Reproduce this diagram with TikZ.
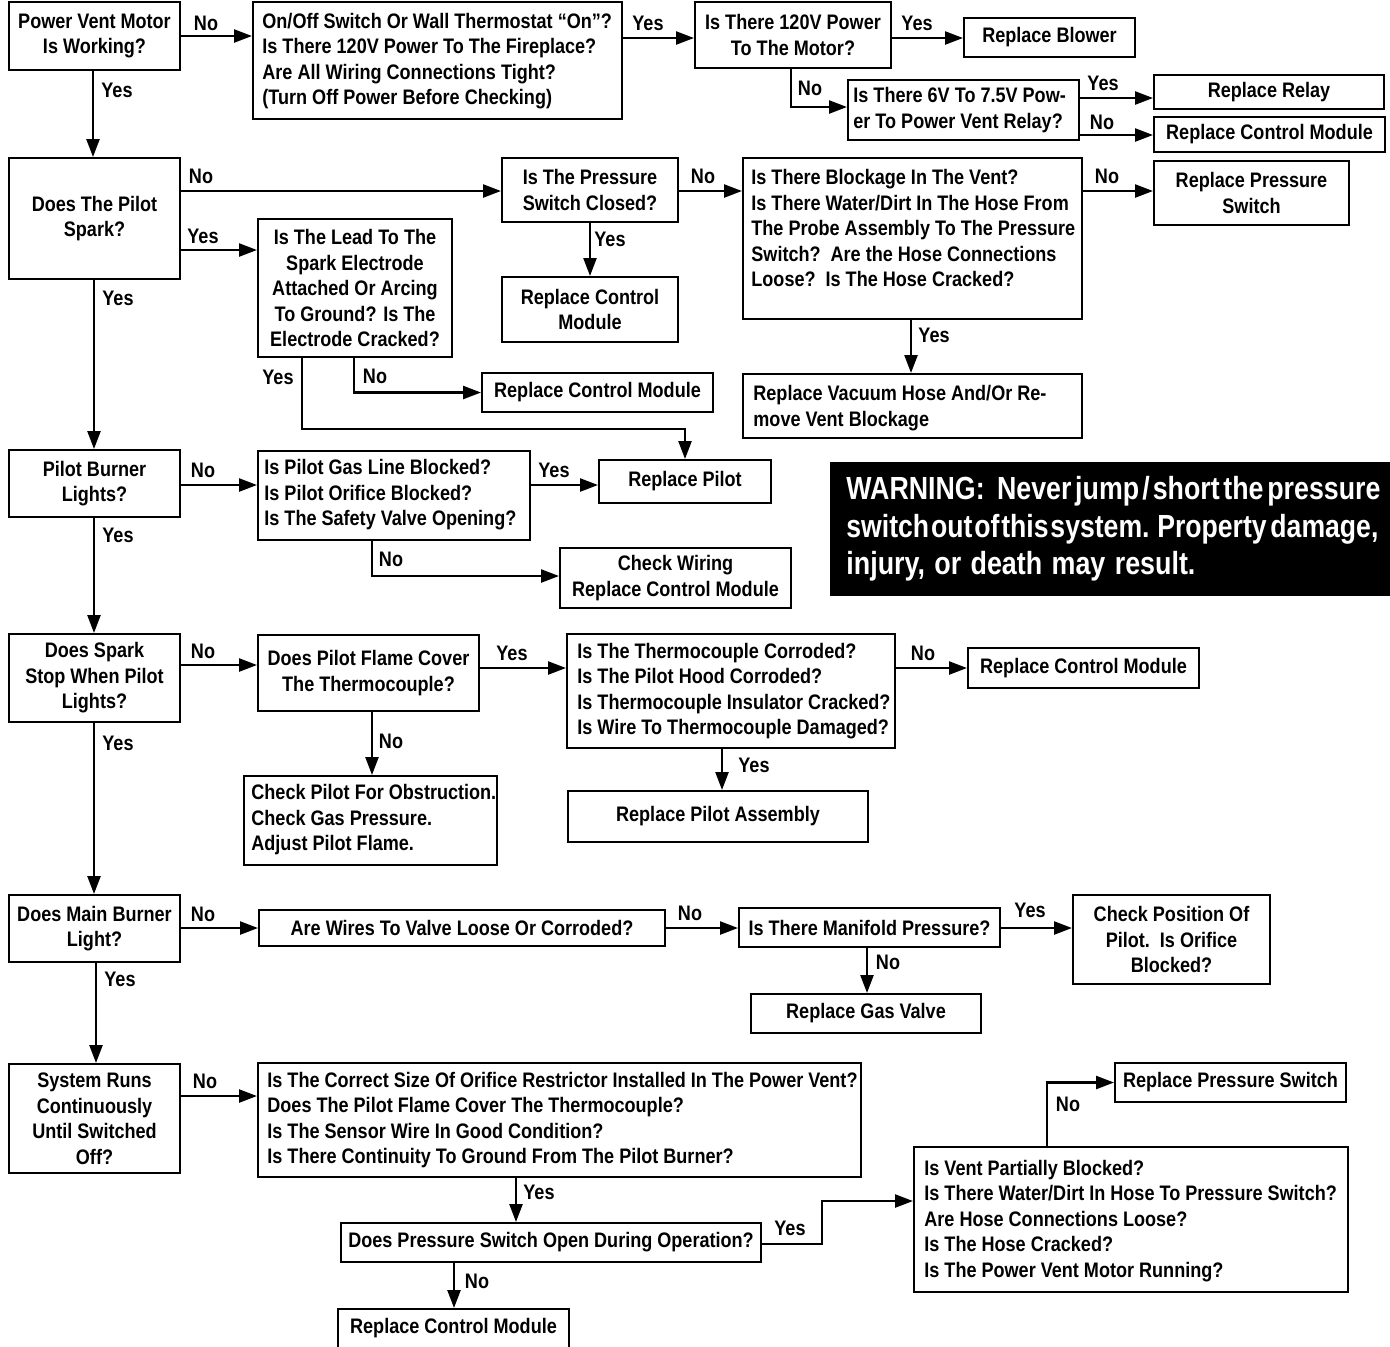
\documentclass[tikz,border=0pt]{standalone}
\usepackage{fontspec}
\setmainfont{Liberation Sans}[FakeStretch=0.86]
\usetikzlibrary{arrows.meta}
\newcommand\fs{\fontsize{10.5}{12.75}\selectfont\bfseries}
\newcommand\wfs{\fontsize{16}{18.75}\selectfont\bfseries}
\tikzset{
  box/.style={draw,line width=1pt,inner sep=0pt,align=center,font=\fs},
  txt/.style={inner sep=0pt,align=left,font=\fs},
  lab/.style={inner sep=0pt,font=\fs},
  arr/.style={line width=1.2pt,-{Triangle[length=9pt,width=6.5pt]}},
  wtxt/.style={inner sep=0pt,text=white,font=\wfs}
}
\newcommand\bx[6]{%
  \pgfmathsetmacro\bw{(#4-#2)*0.5}%
  \pgfmathsetmacro\bh{(#5-#3)*0.5}%
  \node[box,minimum width=\bw pt,minimum height=\bh pt] (#1) at ({(#2+#4)/2},{(#3+#5)/2}) {#6};}
\newcommand\lbx[8]{%
  \bx{#1}{#2}{#3}{#4}{#5}{}%
  \node[txt,anchor=west] (#1-t) at (#6,#7) {#8};}
\begin{document}
\begin{tikzpicture}[x=0.5pt,y=-0.5pt]
\useasboundingbox (0,0) rectangle (1390,1346);
% ---- boxes
\bx{pvm}{9}{2}{180}{70}{Power Vent Motor\\Is Working?}
\lbx{onoff}{253}{2}{622}{119}{262}{61}{On/Off Switch Or Wall Thermostat “On”?\\Is There 120V Power To The Fireplace?\\Are All Wiring Connections Tight?\\(Turn Off Power Before Checking)}
\bx{pwr}{695}{2}{891}{68}{Is There 120V Power\\To The Motor?}
\bx{blower}{964}{18}{1135}{57}{Replace Blower}
\lbx{relq}{848}{80}{1079}{140}{853}{110}{Is There 6V To 7.5V Pow-\\er To Power Vent Relay?}
\bx{relay}{1154}{75}{1384}{109}{Replace Relay}
\bx{rcmA}{1154}{117}{1385}{152}{Replace Control Module}
\bx{spark}{9}{158}{180}{279}{Does The Pilot\\Spark?}
\bx{lead}{258}{219}{452}{357}{Is The Lead To The\\Spark Electrode\\Attached Or Arcing\\To Ground? Is The\\Electrode Cracked?}
\bx{psc}{502}{158}{678}{222}{Is The Pressure\\Switch Closed?}
\bx{rcmB}{502}{277}{678}{342}{Replace Control\\Module}
\lbx{block}{743}{158}{1082}{319}{751}{228}{Is There Blockage In The Vent?\\Is There Water/Dirt In The Hose From\\The Probe Assembly To The Pressure\\Switch?\ \ Are the Hose Connections\\Loose?\ \ Is The Hose Cracked?}
\bx{rpsA}{1154}{161}{1349}{225}{Replace Pressure\\Switch}
\lbx{vac}{743}{374}{1082}{438}{753}{408}{Replace Vacuum Hose And/Or Re-\\move Vent Blockage}
\bx{rcmC}{482}{373}{713}{412}{Replace Control Module}
\bx{pburn}{9}{450}{180}{517}{Pilot Burner\\Lights?}
\lbx{gas}{258}{451}{530}{540}{264}{495}{Is Pilot Gas Line Blocked?\\Is Pilot Orifice Blocked?\\Is The Safety Valve Opening?}
\bx{rpil}{599}{460}{771}{503}{Replace Pilot}
\bx{cwire}{560}{548}{791}{608}{Check Wiring\\Replace Control Module}
\bx{dss}{9}{634}{180}{722}{Does Spark\\Stop When Pilot\\Lights?}
\bx{flame}{258}{635}{479}{711}{Does Pilot Flame Cover\\The Thermocouple?}
\lbx{thermo}{567}{634}{895}{748}{577}{691}{Is The Thermocouple Corroded?\\Is The Pilot Hood Corroded?\\Is Thermocouple Insulator Cracked?\\Is Wire To Thermocouple Damaged?}
\bx{rcmD}{968}{648}{1199}{688}{Replace Control Module}
\lbx{obst}{244}{776}{497}{865}{251}{820}{Check Pilot For Obstruction.\\Check Gas Pressure.\\Adjust Pilot Flame.}
\bx{rpa}{568}{791}{868}{842}{Replace Pilot Assembly}
\bx{mainb}{9}{895}{180}{962}{Does Main Burner\\Light?}
\bx{wires}{259}{910}{665}{946}{Are Wires To Valve Loose Or Corroded?}
\bx{mani}{739}{908}{1000}{947}{Is There Manifold Pressure?}
\bx{cpos}{1073}{895}{1270}{984}{Check Position Of\\Pilot.\ \ Is Orifice\\Blocked?}
\bx{rgv}{751}{994}{981}{1033}{Replace Gas Valve}
\bx{sysr}{9}{1064}{180}{1173}{System Runs\\Continuously\\Until Switched\\Off?}
\lbx{csize}{258}{1063}{861}{1177}{267}{1120}{Is The Correct Size Of Orifice Restrictor Installed In The Power Vent?\\Does The Pilot Flame Cover The Thermocouple?\\Is The Sensor Wire In Good Condition?\\Is There Continuity To Ground From The Pilot Burner?}
\bx{pso}{341}{1223}{761}{1262}{Does Pressure Switch Open During Operation?}
\bx{rcmE}{338}{1309}{569}{1348}{Replace Control Module}
\lbx{vpart}{914}{1147}{1348}{1292}{924}{1221}{Is Vent Partially Blocked?\\Is There Water/Dirt In Hose To Pressure Switch?\\Are Hose Connections Loose?\\Is The Hose Cracked?\\Is The Power Vent Motor Running?}
\bx{rpsB}{1115}{1063}{1346}{1102}{Replace Pressure Switch}
% ---- warning
\fill (830,462) rectangle (1390,596);
\node[wtxt,anchor=base west] (w1) at (846,499) {\resizebox{267pt}{\height}{WARNING:\hspace{0.4em}Never\hspace{0.12em}jump\hspace{0.1em}/\hspace{0.1em}short\hspace{0.12em}the\hspace{0.12em}pressure}};
\node[wtxt,anchor=base west] (w2) at (846,537) {\resizebox{266pt}{\height}{switch\hspace{0.06em}out\hspace{0.06em}of\hspace{0.06em}this\hspace{0.06em}system.\hspace{0.25em}Property\hspace{0.12em}damage,}};
\node[wtxt,anchor=base west] (w3) at (846,574) {\resizebox{174.5pt}{\height}{injury,\hspace{0.3em}or\hspace{0.3em}death\hspace{0.3em}may\hspace{0.3em}result.}};
% ---- connectors
\draw[arr] (pvm.east) -- (pvm.east -| onoff.west);
\node[lab] (l1) at (206,23) {No};
\draw[arr] (onoff.east |- 0,38) -- (pwr.west |- 0,38);
\node[lab] (l2) at (648,23) {Yes};
\draw[arr] (pwr.east |- 0,38) -- (blower.west |- 0,38);
\node[lab] (l3) at (917,23) {Yes};
\draw[arr] (pwr.south -| 791,0) |- (relq.west |- 0,107);
\node[lab] (l4) at (810,88) {No};
\draw[arr] (relq.east |- 0,98) -- (relay.west |- 0,98);
\node[lab] (l5) at (1103,83) {Yes};
\draw[arr] (relq.east |- 0,135) -- (rcmA.west |- 0,135);
\node[lab] (l6) at (1102,122) {No};
\draw[arr] (pvm.south -| 93,0) -- (spark.north -| 93,0);
\node[lab] (l7) at (117,90) {Yes};
\draw[arr] (spark.east |- 0,191) -- (psc.west |- 0,191);
\node[lab] (l8) at (201,176) {No};
\draw[arr] (spark.east |- 0,250) -- (lead.west |- 0,250);
\node[lab] (l9) at (203,236) {Yes};
\draw[arr] (spark.south -| 94,0) -- (pburn.north -| 94,0);
\node[lab] (l10) at (118,298) {Yes};
\draw[arr] (psc.east |- 0,191) -- (block.west |- 0,191);
\node[lab] (l11) at (703,176) {No};
\draw[arr] (psc.south) -- (rcmB.north);
\node[lab] (l12) at (610,239) {Yes};
\draw[arr] (block.east |- 0,191) -- (rpsA.west |- 0,191);
\node[lab] (l13) at (1107,176) {No};
\draw[arr] (block.south -| 911,0) -- (vac.north -| 911,0);
\node[lab] (l14) at (934,335) {Yes};
\draw[arr] (lead.south -| 354,0) |- (rcmC.west);
\node[lab] (l15) at (375,376) {No};
\draw[arr] (lead.south -| 302,0) |- (rpil.north |- 0,429) -- (rpil.north);
\node[lab] (l16) at (278,377) {Yes};
\draw[arr] (pburn.east |- 0,485) -- (gas.west |- 0,485);
\node[lab] (l17) at (203,470) {No};
\draw[arr] (gas.east |- 0,485) -- (rpil.west |- 0,485);
\node[lab] (l18) at (554,470) {Yes};
\draw[arr] (gas.south -| 372,0) |- (cwire.west |- 0,576);
\node[lab] (l19) at (391,559) {No};
\draw[arr] (pburn.south -| 94,0) -- (dss.north -| 94,0);
\node[lab] (l20) at (118,535) {Yes};
\draw[arr] (dss.east |- 0,665) -- (flame.west |- 0,665);
\node[lab] (l21) at (203,651) {No};
\draw[arr] (flame.east |- 0,668) -- (thermo.west |- 0,668);
\node[lab] (l22) at (512,653) {Yes};
\draw[arr] (flame.south -| 372,0) -- (obst.north -| 372,0);
\node[lab] (l23) at (391,741) {No};
\draw[arr] (thermo.east |- 0,668) -- (rcmD.west |- 0,668);
\node[lab] (l24) at (923,653) {No};
\draw[arr] (thermo.south -| 722,0) -- (rpa.north -| 722,0);
\node[lab] (l25) at (754,765) {Yes};
\draw[arr] (dss.south -| 94,0) -- (mainb.north -| 94,0);
\node[lab] (l26) at (118,743) {Yes};
\draw[arr] (mainb.east |- 0,928) -- (wires.west |- 0,928);
\node[lab] (l27) at (203,914) {No};
\draw[arr] (wires.east |- 0,928) -- (mani.west |- 0,928);
\node[lab] (l28) at (690,913) {No};
\draw[arr] (mani.east |- 0,928) -- (cpos.west |- 0,928);
\node[lab] (l29) at (1030,910) {Yes};
\draw[arr] (mani.south -| 867,0) -- (rgv.north -| 867,0);
\node[lab] (l30) at (888,962) {No};
\draw[arr] (mainb.south -| 96,0) -- (sysr.north -| 96,0);
\node[lab] (l31) at (120,979) {Yes};
\draw[arr] (sysr.east |- 0,1096) -- (csize.west |- 0,1096);
\node[lab] (l32) at (205,1081) {No};
\draw[arr] (csize.south -| 516,0) -- (pso.north -| 516,0);
\node[lab] (l33) at (539,1192) {Yes};
\draw[arr] (pso.south -| 454,0) -- (rcmE.north -| 454,0);
\node[lab] (l34) at (477,1281) {No};
\draw[arr] (pso.east |- 0,1244) -- ++(60,0) |- (vpart.west |- 0,1201);
\node[lab] (l35) at (790,1228) {Yes};
\draw[arr] (vpart.north -| 1047,0) |- (rpsB.west);
\node[lab] (l36) at (1068,1104) {No};
\end{tikzpicture}
\end{document}
